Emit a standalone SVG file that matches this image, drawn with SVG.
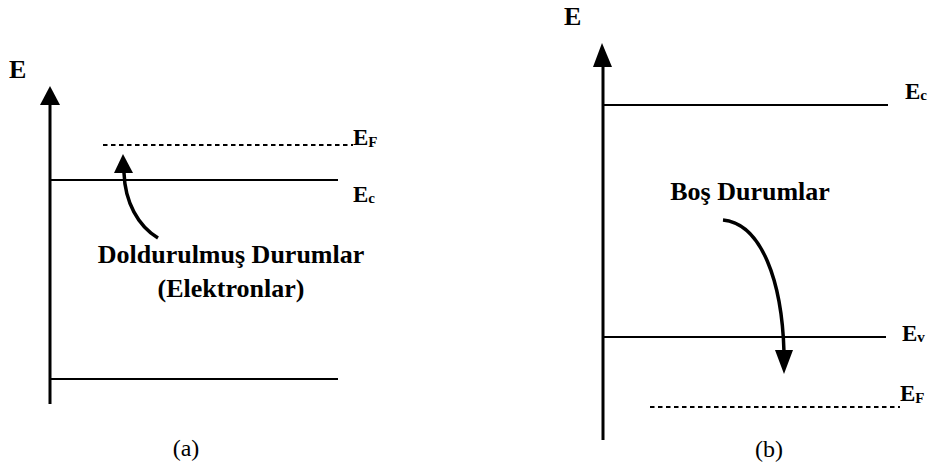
<svg xmlns="http://www.w3.org/2000/svg" width="934" height="473" viewBox="0 0 934 473">
  <style>
    .axis { stroke: #000; stroke-width: 3; fill: none; }
    .level { stroke: #000; stroke-width: 2; fill: none; }
    .fermi { stroke: #000; stroke-width: 2; fill: none; stroke-dasharray: 4.5 3.5; }
    .curve { stroke: #000; stroke-width: 3.5; fill: none; }
    .head { fill: #000; }
    text { font-family: "Liberation Serif", "Times New Roman", serif; fill: #000; }
    .lbl { font-weight: bold; font-size: 23px; }
    .sub { font-weight: bold; font-size: 15px; }
    .note { font-weight: bold; font-size: 26px; text-anchor: middle; }
    .axlbl { font-weight: bold; font-size: 26px; }
    .cap { font-size: 24px; text-anchor: middle; }
  </style>

  <!-- panel (a): degenerate n-type, Fermi level above conduction band -->
  <g id="panel-a">
    <g id="a-axis">
      <line class="axis" x1="50" y1="404" x2="50" y2="103"/>
      <polygon class="head" points="50,86 40,105 60,105"/>
      <text class="axlbl" x="9" y="78">E</text>
    </g>
    <g id="a-EF">
      <line class="fermi" x1="103" y1="145" x2="353" y2="145"/>
      <text class="lbl" x="353" y="145">E<tspan class="sub" dy="2">F</tspan></text>
    </g>
    <g id="a-Ec">
      <line class="level" x1="50" y1="180" x2="338" y2="180"/>
      <text class="lbl" x="353" y="202">E<tspan class="sub" dy="1">c</tspan></text>
    </g>
    <g id="a-Ev">
      <line class="level" x1="50" y1="379" x2="338" y2="379"/>
    </g>
    <g id="a-note">
      <text class="note" x="231" y="263">Doldurulmuş Durumlar</text>
      <text class="note" x="231" y="297">(Elektronlar)</text>
    </g>
    <text class="cap" x="186" y="456">(a)</text>
  </g>

  <!-- panel (b): degenerate p-type, Fermi level below valence band -->
  <g id="panel-b">
    <g id="b-axis">
      <line class="axis" x1="603" y1="440" x2="603" y2="65"/>
      <polygon class="head" points="602,43 593,67 612,67"/>
      <text class="axlbl" x="564" y="25">E</text>
    </g>
    <g id="b-Ec">
      <line class="level" x1="603" y1="105" x2="888" y2="105"/>
      <text class="lbl" x="905" y="99">E<tspan class="sub" dy="1">c</tspan></text>
    </g>
    <g id="b-Ev">
      <line class="level" x1="603" y1="337" x2="886" y2="337"/>
      <text class="lbl" x="902" y="341">E<tspan class="sub" dy="1">v</tspan></text>
    </g>
    <g id="b-EF">
      <line class="fermi" x1="650" y1="407" x2="900" y2="407"/>
      <text class="lbl" x="900" y="401">E<tspan class="sub" dy="2">F</tspan></text>
    </g>
    <g id="b-note">
      <text class="note" x="750" y="200">Boş Durumlar</text>
    </g>
    <text class="cap" x="769" y="457">(b)</text>
  </g>

  <!-- curved pointers from the notes to the levels -->
  <g id="connectors">
    <path class="curve" d="M158,238 C138,226 125,202 124,173"/>
    <polygon class="head" points="123,154 114,173 133,173"/>
    <path class="curve" d="M723,220 C762,224 782,282 784,352"/>
    <polygon class="head" points="784,374 775,350 793,350"/>
  </g>
</svg>
